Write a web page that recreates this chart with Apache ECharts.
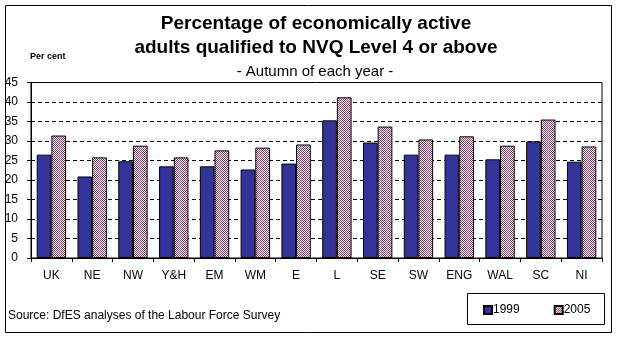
<!DOCTYPE html>
<html>
<head>
<meta charset="utf-8">
<script src="https://cdn.jsdelivr.net/npm/echarts@6/dist/echarts.min.js"></script>
<style>
html,body{margin:0;padding:0;background:#fff;}
#c{width:619px;height:340px;}
</style>
</head>
<body>
<div id="c"></div>
<script>
var categories = ['UK','NE','NW','Y&H','EM','WM','E','L','SE','SW','ENG','WAL','SC','NI'];
var series1999 = [26.5,20.9,24.8,23.5,23.5,22.7,24.2,35.3,29.6,26.5,26.5,25.3,29.9,24.7];
var series2005 = [31.4,25.8,28.8,25.8,27.6,28.3,29.1,41.2,33.7,30.4,31.2,28.8,35.5,28.6];
var seriesNames = ['1999','2005'];
var yTicks = {min:0, max:45, interval:5};

var pc = document.createElement('canvas');
pc.width = 2; pc.height = 2;
var ctx = pc.getContext('2d');
ctx.fillStyle = '#ffffff'; ctx.fillRect(0,0,2,2);
ctx.fillStyle = '#993366';
ctx.fillRect(0,0,1,1); ctx.fillRect(1,1,1,1);

var font = 'Liberation Sans, Arial, sans-serif';
var chart = echarts.init(document.getElementById('c'), null, {renderer:'canvas'});
chart.setOption({
  animation:false,
  backgroundColor:'#fff',
  textStyle:{fontFamily:font},
  title:[
    {text:'Percentage of economically active\nadults qualified to NVQ Level 4 or above', left:316, textAlign:'center', top:12, padding:0,
     textStyle:{fontSize:19, fontWeight:'bold', color:'#000', lineHeight:24, fontFamily:font}},
    {text:'- Autumn of each year -', left:315, textAlign:'center', top:64, padding:0,
     textStyle:{fontSize:15, fontWeight:'normal', color:'#000', fontFamily:font}},
    {text:'Per cent', left:30, top:52, padding:0, textStyle:{fontSize:9, fontWeight:'bold', color:'#000', fontFamily:font}},
    {text:'Source: DfES analyses of the Labour Force Survey', left:8, top:310, padding:0, textStyle:{fontSize:12, fontWeight:'normal', color:'#000', fontFamily:font}}
  ],
  graphic:[
    {type:'rect', shape:{x:5.5,y:5.5,width:606,height:327}, style:{fill:'none', stroke:'#000', lineWidth:1}, silent:true},
    {type:'rect', shape:{x:467.5,y:293.5,width:137,height:31}, style:{fill:'none', stroke:'#000', lineWidth:1}, silent:true}
  ],
  legend:{
    data:seriesNames, left:478, top:299, itemWidth:8, itemHeight:8, itemGap:34,
    icon:'rect',
    textStyle:{fontSize:12, color:'#000', fontFamily:font, padding:[0,0,0,-4]}
  },
  grid:{left:31, right:17, top:82.5, bottom:82, show:true, borderColor:'#000', borderWidth:1, backgroundColor:'transparent'},
  xAxis:{
    type:'category', data:categories,
    axisLine:{lineStyle:{color:'#000', width:1}},
    axisTick:{show:true, length:4, lineStyle:{color:'#000'}},
    axisLabel:{color:'#000', fontSize:12, margin:12, fontFamily:font}
  },
  yAxis:{
    type:'value', min:yTicks.min, max:yTicks.max, interval:yTicks.interval,
    axisLine:{show:true, lineStyle:{color:'#000', width:1}},
    axisTick:{show:true, length:4, lineStyle:{color:'#000'}},
    axisLabel:{color:'#000', fontSize:12, margin:13, fontFamily:font},
    splitLine:{show:true, lineStyle:{color:'#000', type:[4,3], width:1}}
  },
  series:[
    {name:seriesNames[0], type:'bar', data:series1999, barGap:'0%', barCategoryGap:'28%',
     itemStyle:{color:'#333399', borderColor:'#000', borderWidth:1}},
    {name:seriesNames[1], type:'bar', data:series2005, barGap:'0%', barCategoryGap:'28%',
     itemStyle:{color:{image:pc, repeat:'repeat'}, borderColor:'#000', borderWidth:1}}
  ]
});
</script>
</body>
</html>
